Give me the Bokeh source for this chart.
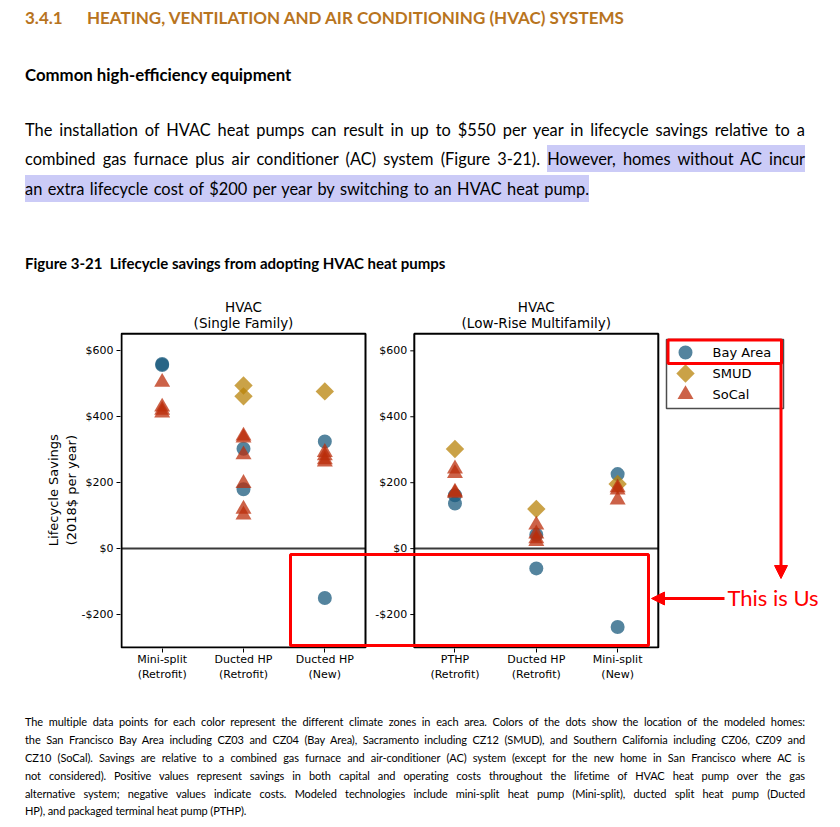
import math
from bokeh.plotting import figure
from bokeh.models import (Range1d, FixedTicker, CustomJSTickFormatter, Arrow,
                          NormalHead, Div)
from bokeh.layouts import column
from bokeh.embed import file_html
from bokeh.resources import INLINE
from bokeh.core.properties import value

# ---------------- data ----------------
PANEL_TITLES = [["HVAC", "(Single Family)"], ["HVAC", "(Low-Rise Multifamily)"]]
PANEL_CATEGORIES = [
    ["Mini-split\n(Retrofit)", "Ducted HP\n(Retrofit)", "Ducted HP\n(New)"],
    ["PTHP\n(Retrofit)", "Ducted HP\n(Retrofit)", "Mini-split\n(New)"],
]
REGIONS = ["Bay Area", "SMUD", "SoCal"]
Y_LABEL = ["Lifecycle Savings", "(2018$ per year)"]

# lifecycle savings (2018$ per year), one list per category
SF_BAY_AREA = [[560, 557], [303, 180], [325, -150]]
SF_SMUD = [[], [495, 462], [477]]
SF_SOCAL = [[505, 430, 420, 412], [342, 336, 285, 198, 120, 102], [292, 282, 270, 263]]
MF_BAY_AREA = [[162, 137], [42, -60], [226, -238]]
MF_SMUD = [[302], [120], [196]]
MF_SOCAL = [[242, 228, 172, 168], [72, 45, 30, 22], [185, 178, 148]]

Y_TICKS = [-200, 0, 200, 400, 600]
Y_MIN, Y_MAX = -300, 652

# ---------------- layout constants ----------------
GAP = 0.6                 # gap between the two panels, in category widths
PX = 244 / 3.0            # pixels per category
PY = 263.7 / 800.0        # pixels per dollar
FRAME_W, FRAME_H = 712, 358
XS = -1 / PX
XE = XS + FRAME_W / PX
YS = Y_MIN - 1 / PY
YE = YS + FRAME_H / PY
FRAME_LEFT_PAGE, FRAME_BOTTOM_PAGE = 120, 648


def px2x(px):
    return XS + (px - FRAME_LEFT_PAGE) / PX


def px2y(py):
    return YS + (FRAME_BOTTOM_PAGE - py) / PY


def cat_x(panel, idx):
    return panel * (3 + GAP) + idx + 0.5


PANEL_LEFT = [panel * (3 + GAP) for panel in range(2)]

BAY_COLOR, SMUD_COLOR, SOCAL_COLOR = "#1b5b7e", "#b8830a", "#bb2e0b"
ALPHA = 0.75
FONT = "DejaVu Sans"


def region_points(panel_lists):
    xs, ys = [], []
    for panel, lists in enumerate(panel_lists):
        for ci, vals in enumerate(lists):
            xs += [cat_x(panel, ci)] * len(vals)
            ys += list(vals)
    return xs, ys


p = figure(frame_width=FRAME_W, frame_height=FRAME_H,
           x_range=Range1d(XS, XE), y_range=Range1d(YS, YE),
           min_border_left=112, min_border_right=0, min_border_top=0,
           min_border_bottom=42, output_backend="svg", toolbar_location=None,
           background_fill_color="white", border_fill_color="white")
p.outline_line_color = None
p.xgrid.visible = False
p.ygrid.visible = False

# axes
xticks = [cat_x(pi, ci) for pi in range(2) for ci in range(3)]
xlabels = [PANEL_CATEGORIES[pi][ci] for pi in range(2) for ci in range(3)]
xa = p.xaxis[0]
xa.ticker = FixedTicker(ticks=xticks)
xa.formatter = CustomJSTickFormatter(args=dict(pos=xticks, labs=xlabels), code="""
const i = pos.findIndex((v) => Math.abs(v - tick) < 1e-6);
return i >= 0 ? labs[i] : '';
""")
ya = p.yaxis[0]
ya.ticker = FixedTicker(ticks=Y_TICKS)
ya.formatter = CustomJSTickFormatter(code="return (tick < 0 ? '-$' : '$') + Math.abs(tick);")
for ax in (xa, ya):
    ax.axis_line_color = None
    ax.major_tick_line_color = "black"
    ax.major_tick_line_width = 1
    ax.major_tick_out = 4
    ax.major_tick_in = 0
    ax.minor_tick_line_color = None
    ax.major_label_text_font = FONT
    ax.major_label_text_font_size = "11px"
    ax.major_label_text_color = "black"
xa.major_label_standoff = 0
ya.major_label_standoff = 3

# y axis title: centred on the panels (trailing blanks shift it below the frame centre)
PAD = "\u00a0" * 10
ya.axis_label = "\n".join(t + PAD for t in Y_LABEL)
ya.axis_label_text_font = FONT
ya.axis_label_text_font_size = "13px"
ya.axis_label_text_font_style = "normal"
ya.axis_label_text_color = "black"
ya.axis_label_standoff = 0

# right panel y ticks
right_edge = PANEL_LEFT[1]
p.segment(x0=[right_edge - 4 / PX] * len(Y_TICKS), x1=[right_edge] * len(Y_TICKS),
          y0=Y_TICKS, y1=Y_TICKS, line_color="black", line_width=1)
p.text(x=[right_edge] * len(Y_TICKS), y=Y_TICKS,
       text=[("-$" if v < 0 else "$") + str(abs(v)) for v in Y_TICKS],
       x_offset=-7, text_align="right", text_baseline="middle",
       text_font=value(FONT), text_font_size="11px", text_color="black")

# zero lines
p.segment(x0=PANEL_LEFT, x1=[l + 3 for l in PANEL_LEFT], y0=[0, 0], y1=[0, 0],
          line_color="#3a3a3a", line_width=2)

# panel titles
for pi, (t1, t2) in enumerate(PANEL_TITLES):
    cx = PANEL_LEFT[pi] + 1.5
    p.text(x=[cx, cx], y=[px2y(306), px2y(322)], text=[t1, t2],
           text_align="center", text_baseline="middle",
           text_font=value(FONT), text_font_size="13.5px", text_color="black")

# data markers
bx, by = region_points([SF_BAY_AREA, MF_BAY_AREA])
sx, sy = region_points([SF_SMUD, MF_SMUD])
cx_, cy_ = region_points([SF_SOCAL, MF_SOCAL])
p.scatter(bx, by, marker="circle", size=14, fill_color=BAY_COLOR,
          line_color=None, fill_alpha=ALPHA)
p.scatter(sx, sy, marker="square", angle=math.pi / 4, size=13, fill_color=SMUD_COLOR,
          line_color=None, fill_alpha=ALPHA)
p.scatter(cx_, cy_, marker="triangle", size=16, fill_color=SOCAL_COLOR,
          line_color=None, fill_alpha=ALPHA)

# panel frames
p.quad(left=PANEL_LEFT, right=[l + 3 for l in PANEL_LEFT], bottom=[Y_MIN] * 2,
       top=[Y_MAX] * 2, fill_color=None, line_color="black", line_width=2)

# legend (drawn in the plot area to the right of the panels)
LEG_L, LEG_R, LEG_T, LEG_B = 666, 783, 339, 408
p.quad(left=[px2x(LEG_L)], right=[px2x(LEG_R)], top=[px2y(LEG_T)], bottom=[px2y(LEG_B)],
       fill_color="white", line_color="#4d4d4d", line_width=1.5)
row_y = [px2y(352), px2y(373), px2y(394)]
p.scatter([px2x(685)], [row_y[0]], marker="circle", size=14, fill_color=BAY_COLOR,
          line_color=None, fill_alpha=ALPHA)
p.scatter([px2x(685)], [row_y[1]], marker="square", angle=math.pi / 4, size=13,
          fill_color=SMUD_COLOR, line_color=None, fill_alpha=ALPHA)
p.scatter([px2x(685)], [row_y[2]], marker="triangle", size=16, fill_color=SOCAL_COLOR,
          line_color=None, fill_alpha=ALPHA)
p.text(x=[px2x(712)] * 3, y=row_y, text=REGIONS, text_align="left",
       text_baseline="middle", text_font=value(FONT), text_font_size="13px",
       text_color="black")

# red annotations
RED = "#ff0000"
p.quad(left=[px2x(667.5)], right=[px2x(781)], top=[px2y(339.5)], bottom=[px2y(363)],
       fill_color=None, line_color=RED, line_width=3)
p.quad(left=[px2x(290)], right=[px2x(648)], top=[px2y(554)], bottom=[px2y(645)],
       fill_color=None, line_color=RED, line_width=3)
p.add_layout(Arrow(x_start=px2x(780.5), y_start=px2y(363), x_end=px2x(780.5), y_end=px2y(578),
                   line_color=RED, line_width=3,
                   end=NormalHead(size=13, fill_color=RED, line_color=RED)))
p.add_layout(Arrow(x_start=px2x(724), y_start=px2y(598), x_end=px2x(651), y_end=px2y(598),
                   line_color=RED, line_width=3,
                   end=NormalHead(size=13, fill_color=RED, line_color=RED)))
p.text(x=[px2x(727)], y=[px2y(597)], text=["This is Us"], text_align="left",
       text_baseline="middle", text_font=value("Lato"), text_font_size="22px",
       text_color=RED)

# ---------------- document text ----------------
HL = "background:#cbcbf7;padding:4px 0;"


def line_div(top, left, html, size, lh, weight="normal", color="#000",
             width=None, justify=False, extra=""):
    style = (f"position:absolute;left:{left}px;top:{top}px;height:{lh}px;"
             f"line-height:{lh}px;font-size:{size}px;font-weight:{weight};"
             f"color:{color};white-space:nowrap;{extra}")
    if width:
        style += f"width:{width}px;"
    if justify:
        style += "text-align:justify;text-align-last:justify;"
    return f'<div style="{style}">{html}</div>'


top_lines = [
    line_div(0, 17, "3.4.1", 17, 20, "bold", "#b8741e"),
    line_div(0, 79, "HEATING, VENTILATION AND AIR CONDITIONING (HVAC) SYSTEMS", 17, 20,
             "bold", "#b8741e"),
    line_div(57, 17, "Common high-efficiency equipment", 16.8, 20, "bold"),
    line_div(110, 17, "The installation of HVAC heat pumps can result in up to $550 per year "
             "in lifecycle savings relative to a", 16.4, 24, width=780, justify=True),
    line_div(139, 17, "combined gas furnace plus air conditioner (AC) system (Figure 3-21). "
             f'<span style="{HL}">However, homes without AC incur</span>', 16.4, 24,
             width=780, justify=True),
    line_div(169, 17, f'<span style="{HL}">an extra lifecycle cost of $200 per year by '
             'switching to an HVAC heat pump.</span>', 16.4, 24, extra="word-spacing:1.3px;"),
    line_div(245, 17, "Figure 3-21&nbsp;&nbsp;Lifecycle savings from adopting HVAC heat pumps",
             15, 20, "bold"),
]
top_html = ('<div style="position:relative;width:824px;height:282px;'
            'font-family:Lato, sans-serif;">' + "".join(top_lines) + "</div>")

CAPTION = [
    "The multiple data points for each color represent the different climate zones in each area. "
    "Colors of the dots show the location of the modeled homes:",
    "the San Francisco Bay Area including CZ03 and CZ04 (Bay Area), Sacramento including CZ12 "
    "(SMUD), and Southern California including CZ06, CZ09 and",
    "CZ10 (SoCal). Savings are relative to a combined gas furnace and air-conditioner (AC) system "
    "(except for the new home in San Francisco where AC is",
    "not considered). Positive values represent savings in both capital and operating costs "
    "throughout the lifetime of HVAC heat pump over the gas",
    "alternative system; negative values indicate costs. Modeled technologies include mini-split "
    "heat pump (Mini-split), ducted split heat pump (Ducted",
    "HP), and packaged terminal heat pump (PTHP).",
]
cap_tops = [24, 42, 60, 78, 96, 113]
cap_lines = []
for i, (t, txt) in enumerate(zip(cap_tops, CAPTION)):
    last = i == len(CAPTION) - 1
    cap_lines.append(line_div(t, 17, txt, 11, 16, width=None if last else 780,
                              justify=not last, extra="letter-spacing:-0.1px;"))
bottom_html = ('<div style="position:relative;width:824px;height:129px;'
               'font-family:Lato, sans-serif;">' + "".join(cap_lines) + "</div>")

top_div = Div(text=top_html, width=824, height=282, margin=0)
bottom_div = Div(text=bottom_html, width=824, height=129, margin=0)
p.margin = 0

layout = column(top_div, p, bottom_div, spacing=0, margin=(8, 0, 0, 8))

with open("out.html", "w") as f:
    f.write(file_html(layout, INLINE))
